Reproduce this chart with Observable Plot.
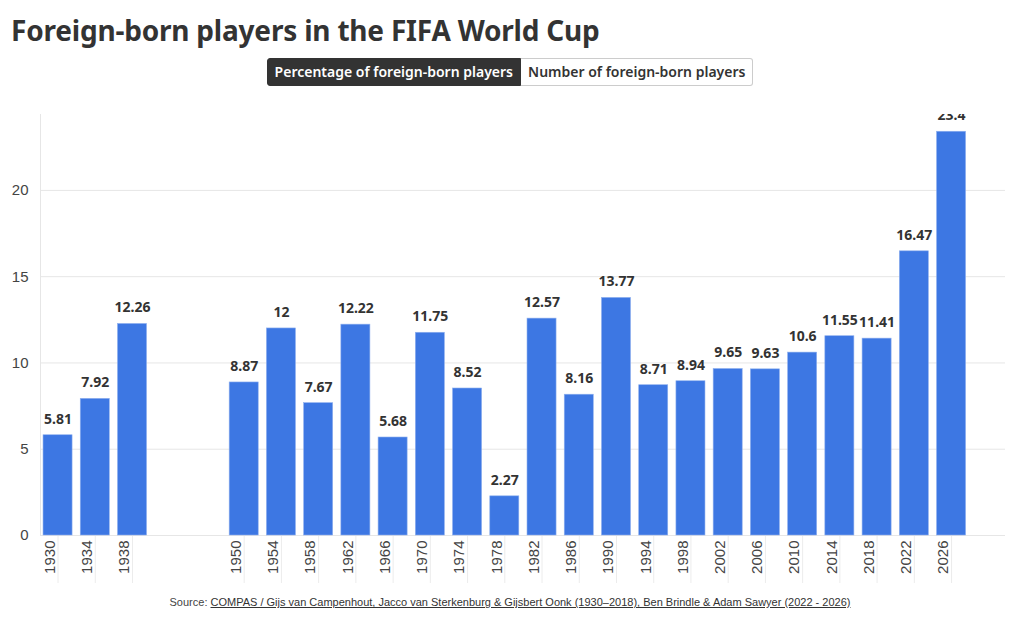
<!DOCTYPE html>
<html>
<head>
<meta charset="utf-8">
<script src="https://cdn.jsdelivr.net/npm/d3@7"></script>
<script src="https://cdn.jsdelivr.net/npm/@observablehq/plot@0.6"></script>
<style>
  html, body { margin: 0; padding: 0; background: #fff; }
  body { width: 1020px; height: 621px; overflow: hidden; position: relative; font-family: "Noto Sans", sans-serif; }
  h1 { margin: 0; position: absolute; left: 11px; top: 11px; font-size: 28px; font-weight: 700; color: #333; letter-spacing: -0.2px; }
  .buttons { position: absolute; top: 58px; left: 0; width: 1020px; display: flex; justify-content: center; }
  .buttons div { font-size: 14px; font-weight: 600; height: 26px; line-height: 26px; padding: 0 7px; border: 1px solid #ccc; box-sizing: content-box; }
  .buttons .on { background: #333; color: #fff; border-color: #333; border-radius: 3px 0 0 3px; }
  .buttons .off { background: #fff; color: #333; border-left: none; border-radius: 0 3px 3px 0; }
  #chart { position: absolute; top: 114px; left: 0; }
  .source { position: absolute; top: 596px; left: 0; width: 1020px; text-align: center; font-family: "Liberation Sans Narrow", "Liberation Sans", sans-serif; font-size: 11px; color: #444; }
  .source span { text-decoration: underline; color: #333; }
</style>
</head>
<body>
<h1>Foreign-born players in the FIFA World Cup</h1>
<div class="buttons"><div class="on">Percentage of foreign-born players</div><div class="off">Number of foreign-born players</div></div>
<div id="chart"></div>
<div class="source">Source: <span>COMPAS / Gijs van Campenhout, Jacco van Sterkenburg &amp; Gijsbert Oonk (1930–2018), Ben Brindle &amp; Adam Sawyer (2022 - 2026)</span></div>
<script>
const years = ["1930","1934","1938","1950","1954","1958","1962","1966","1970","1974","1978","1982","1986","1990","1994","1998","2002","2006","2010","2014","2018","2022","2026"];
const percentages = [5.81,7.92,12.26,8.87,12,7.67,12.22,5.68,11.75,8.52,2.27,12.57,8.16,13.77,8.71,8.94,9.65,9.63,10.6,11.55,11.41,16.47,23.4];
const slots = ["1930","1934","1938","1942","1946","1950","1954","1958","1962","1966","1970","1974","1978","1982","1986","1990","1994","1998","2002","2006","2010","2014","2018","2022","2026","2030"];
const yTicks = [0,5,10,15,20];

const data = years.map((y, i) => ({year: y, value: percentages[i]}));

const chart = Plot.plot({
  width: 1020,
  height: 476,
  marginTop: 0,
  marginLeft: 40,
  marginRight: 15,
  marginBottom: 55,
  style: {fontFamily: "'Liberation Sans', Arial, sans-serif", fontSize: "15px", color: "#444", overflow: "hidden"},
  x: {domain: slots, paddingInner: 0.22, paddingOuter: 0.07, align: 0.58, round: false, label: null},
  y: {domain: [0, 24.4], label: null},
  marks: [
    Plot.gridY(yTicks, {stroke: "#e6e6e6", strokeOpacity: 1}),
    Plot.frame({anchor: "left", stroke: "#e6e6e6"}),
    Plot.axisY({ticks: yTicks, tickSize: 0, tickPadding: 12, fontSize: 15, fill: "#444", label: null}),
    Plot.axisX({ticks: years, tickSize: 48, stroke: "#ececec", tickFormat: () => "", label: null}),
    Plot.axisX({ticks: years, tickSize: 0, tickPadding: 5, tickRotate: -90, dx: -8, fontSize: 15, fill: "#444", label: null}),
    Plot.ruleY([0], {stroke: "#e6e6e6"}),
    Plot.barY(data, {x: "year", y: "value", fill: "#3d77e3", stroke: "#8fb0ee", strokeWidth: 0.6}),
    Plot.text(data, {x: "year", y: "value", text: d => String(d.value), dy: -16, fontSize: 14, fontWeight: 700, fill: "#333", fontFamily: "'Noto Sans', sans-serif"})
  ]
});
document.getElementById("chart").appendChild(chart);
</script>
</body>
</html>
